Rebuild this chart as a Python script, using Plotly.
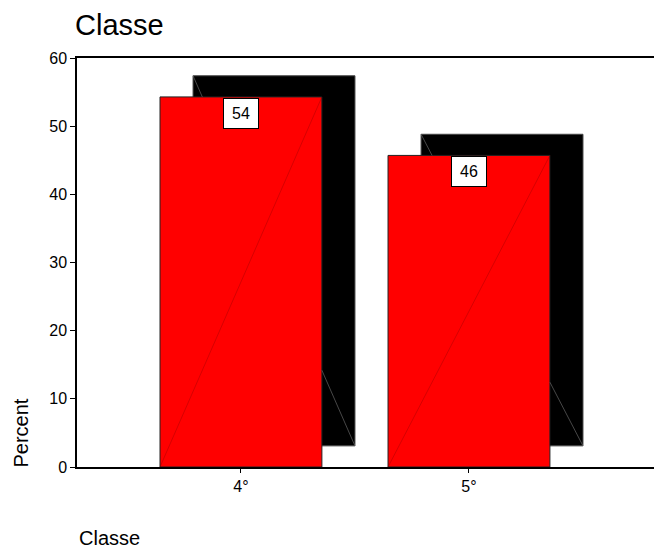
import plotly.graph_objects as go

# ---- data ----
categories = ["4°", "5°"]
percent = [54.29, 45.71]
labels = ["54", "46"]
chart_title = "Classe"
x_title = "Classe"
y_title = "Percent"
y_ticks = [0, 10, 20, 30, 40, 50, 60]

# ---- style / geometry ----
# the page body has an 8px default margin, so the figure is 8px smaller
OFF = 8
W, H = 662 - OFF, 549 - OFF
ML, MR, MT, MB = 77 - OFF, 4, 58 - OFF, 82
bar_w = 0.71
dx = 0.145      # depth offset (x, in category units)
dy = 3.1        # depth offset (y, in percent units)
font = "Liberation Sans, Arial, sans-serif"

xs = list(range(len(categories)))

fig = go.Figure()

# shadow (depth) bars
fig.add_trace(go.Bar(
    x=[x + dx for x in xs], y=percent, base=[dy] * len(xs), width=bar_w,
    marker=dict(color="black", line=dict(color="#444", width=1)),
    hoverinfo="skip", showlegend=False))

# front bars
fig.add_trace(go.Bar(
    x=xs, y=percent, width=bar_w,
    marker=dict(color="#ff0000", line=dict(color="#222", width=1)),
    hoverinfo="skip", showlegend=False))

# diagonals on front bars
for x, v in zip(xs, percent):
    fig.add_trace(go.Scatter(
        x=[x - bar_w / 2, x + bar_w / 2], y=[0, v], mode="lines",
        line=dict(color="rgba(140,0,0,0.6)", width=0.6),
        hoverinfo="skip", showlegend=False))
    # visible parts of the shadow diagonal (top-left -> bottom-right)
    x0 = x + dx - bar_w / 2
    t1 = dy / v
    t2 = 1 - dx / bar_w
    for ta, tb in [(0, t1), (t2, 1)]:
        fig.add_trace(go.Scatter(
            x=[x0 + ta * bar_w, x0 + tb * bar_w],
            y=[v + dy - ta * v, v + dy - tb * v], mode="lines",
            line=dict(color="#666", width=0.7),
            hoverinfo="skip", showlegend=False))

# value labels
for x, v, t in zip(xs, percent, labels):
    fig.add_annotation(
        x=x, y=v, text=t, showarrow=False, yanchor="top", yshift=-1,
        font=dict(family=font, size=16, color="black"),
        bgcolor="white", bordercolor="black", borderwidth=1,
        borderpad=6, width=22, height=17)

plot_w = W - ML - MR
plot_h = H - MT - MB

# axis titles as annotations
fig.add_annotation(
    xref="paper", yref="paper", x=(20.5 - 77) / plot_w, y=(467 - 433) / plot_h,
    text=y_title, textangle=-90, showarrow=False, xanchor="center", yanchor="middle",
    font=dict(family=font, size=20, color="black"))
fig.add_annotation(
    xref="paper", yref="paper", x=0, y=(467 - 538) / plot_h,
    text=x_title, showarrow=False, xanchor="left", yanchor="middle",
    font=dict(family=font, size=20, color="black"))

fig.update_layout(
    width=W, height=H,
    margin=dict(l=ML, r=MR, t=MT, b=MB, pad=0),
    paper_bgcolor="white", plot_bgcolor="white",
    barmode="overlay",
    title=dict(text=chart_title, xref="container", yref="container",
               x=(75 - OFF) / W, xanchor="left", y=(H - (24.5 - OFF)) / H, yanchor="middle",
               font=dict(family=font, size=29, color="black")),
    xaxis=dict(range=[-0.719, 1.829], tickmode="array", tickvals=xs, ticktext=categories,
               showgrid=False, zeroline=False, showline=True, linecolor="black",
               linewidth=1.5, mirror=True, ticks="outside", ticklen=4, tickcolor="black",
               tickfont=dict(family=font, size=16, color="black")),
    yaxis=dict(range=[0, 60], tickmode="array", tickvals=y_ticks,
               showgrid=False, zeroline=False, showline=True, linecolor="black",
               linewidth=1.5, ticks="outside", ticklen=5, tickcolor="black",
               tickfont=dict(family=font, size=16, color="black")),
)

fig.write_html("out.html")
